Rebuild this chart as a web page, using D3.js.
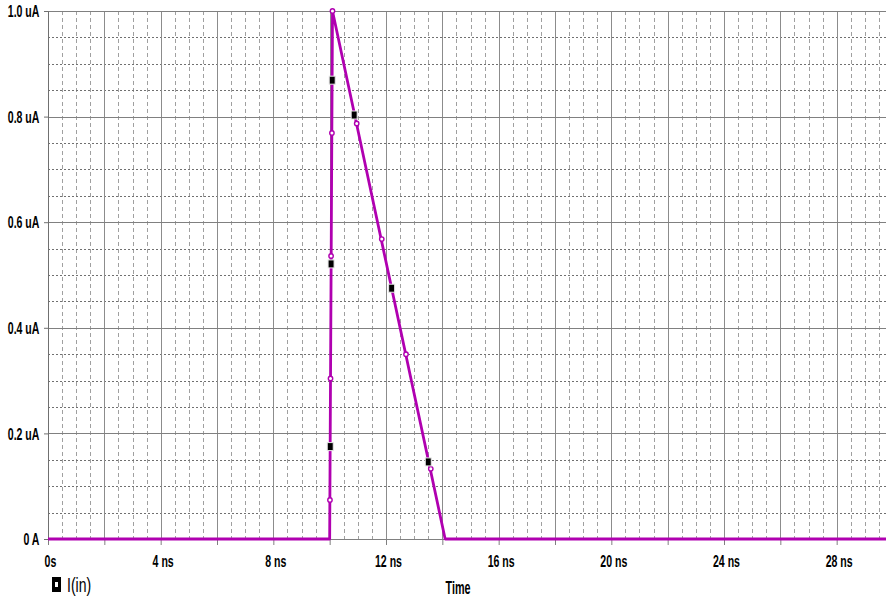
<!DOCTYPE html>
<html>
<head>
<meta charset="utf-8">
<script src="https://cdn.jsdelivr.net/npm/d3@7"></script>
<style>
  body { margin: 0; background: #fff; }
  .tick text { font-family: "Liberation Sans", Arial, sans-serif; font-weight: bold; font-size: 16px; fill: #000; }
</style>
</head>
<body>
<script>
// trace I(in), time in ns, current in uA
var traceTimes = [0, 10, 10.1, 14.1, 30];
var traceValues = [0, 0, 1.0, 0, 0];

// simulation points drawn as little hollow markers
var pointTimes = [10.01, 10.03, 10.05, 10.08, 10.1, 10.96, 11.85, 12.71, 13.59];
var pointValues = [0.074, 0.304, 0.536, 0.769, 1.0, 0.787, 0.568, 0.350, 0.133];

// black legend squares along the trace
var squareTimes = [10.02, 10.05, 10.09, 10.87, 12.2, 13.5];
var squareValues = [0.175, 0.521, 0.869, 0.803, 0.475, 0.146];

// axis ticks
var xTicks = [0, 2, 4, 6, 8, 10, 12, 14, 16, 18, 20, 22, 24, 26, 28, 30];
var xLabelTicks = [0, 4, 8, 12, 16, 20, 24, 28];
var yTicks = [0, 0.2, 0.4, 0.6, 0.8, 1.0];

var w = 886, h = 600;
var traceColor = "#b000b0";
var font = '"Liberation Sans", Arial, sans-serif';

var svg = d3.select("body")
    .append("svg")
    .attr("width", w)
    .attr("height", h);

var x = d3.scaleLinear()
    .domain([0, 30])
    .range([48, 893]);

var y = d3.scaleLinear()
    .domain([0, 1])
    .range([539, 11]);

var grid = svg.append("g").attr("class", "grid");

// minor vertical dashed lines, every 0.5 ns
grid.selectAll(".vminor")
    .data(d3.range(1, 60).map(function(i){ return i * 0.5; }).filter(function(t){ return t % 2 !== 0; }))
    .enter()
    .append("line")
    .attr("x1", function(d){ return Math.round(x(d)) + 0.5; })
    .attr("x2", function(d){ return Math.round(x(d)) + 0.5; })
    .attr("y1", y(1))
    .attr("y2", y(0))
    .attr("stroke", "#a0a0a0")
    .attr("stroke-dasharray", "4,3");

// minor horizontal dashed lines, every 0.05 uA
grid.selectAll(".hminor")
    .data(d3.range(1, 20).map(function(i){ return i * 0.05; }).filter(function(v, i){ return (i + 1) % 4 !== 0; }))
    .enter()
    .append("line")
    .attr("x1", x(0))
    .attr("x2", w)
    .attr("y1", function(d){ return Math.round(y(d)) + 0.5; })
    .attr("y2", function(d){ return Math.round(y(d)) + 0.5; })
    .attr("stroke", "#707070")
    .attr("stroke-dasharray", "2,2");

// major vertical lines
grid.selectAll(".vmajor")
    .data(xTicks)
    .enter()
    .append("line")
    .attr("x1", function(d){ return Math.round(x(d)) + 0.5; })
    .attr("x2", function(d){ return Math.round(x(d)) + 0.5; })
    .attr("y1", y(1))
    .attr("y2", y(0))
    .attr("stroke", "#8c8c8c");

// major horizontal lines
grid.selectAll(".hmajor")
    .data(yTicks)
    .enter()
    .append("line")
    .attr("x1", x(0))
    .attr("x2", w)
    .attr("y1", function(d){ return Math.round(y(d)) + 0.5; })
    .attr("y2", function(d){ return Math.round(y(d)) + 0.5; })
    .attr("stroke", "#808080");

// axes
var xAxis = d3.axisBottom(x)
    .tickValues(xTicks)
    .tickSize(6)
    .tickFormat(function(d){
        if (xLabelTicks.indexOf(d) < 0) return "";
        return d === 0 ? "0s" : d + " ns";
    });

var gx = svg.append("g")
    .attr("transform", "translate(0," + y(0) + ")")
    .call(xAxis);
gx.select(".domain").remove();
gx.selectAll(".tick line").attr("stroke", "#808080");
gx.selectAll(".tick text")
    .attr("x", 3)
    .attr("y", 28)
    .attr("dy", 0)
    .attr("transform", "scale(0.66,1)");

var yAxis = d3.axisLeft(y)
    .tickValues(yTicks)
    .tickSize(4)
    .tickFormat(function(d){
        return d === 0 ? "0 A" : d3.format(".1f")(d) + " uA";
    });

var gy = svg.append("g")
    .attr("transform", "translate(" + x(0) + ",0)")
    .call(yAxis);
gy.select(".domain").attr("stroke", "#707070");
gy.selectAll(".tick line").attr("stroke", "#707070");
gy.selectAll(".tick text")
    .attr("x", -13)
    .attr("dy", "0.36em")
    .attr("transform", "scale(0.66,1)");

// the trace
var line = d3.line()
    .x(function(d){ return x(d.t); })
    .y(function(d){ return y(d.v); });

var trace = traceTimes.map(function(t, i){ return { t: t, v: traceValues[i] }; });

svg.append("path")
    .datum(trace)
    .attr("d", line)
    .attr("fill", "none")
    .attr("stroke", traceColor)
    .attr("stroke-width", 2.8)
    .attr("stroke-linejoin", "round");

// simulation points
svg.selectAll(".pt")
    .data(pointTimes.map(function(t, i){ return { t: t, v: pointValues[i] }; }))
    .enter()
    .append("circle")
    .attr("class", "pt")
    .attr("cx", function(d){ return x(d.t); })
    .attr("cy", function(d){ return y(d.v); })
    .attr("r", 2.2)
    .attr("fill", "#fff")
    .attr("stroke", traceColor)
    .attr("stroke-width", 1.4);

// black marker squares
svg.selectAll(".sq")
    .data(squareTimes.map(function(t, i){ return { t: t, v: squareValues[i] }; }))
    .enter()
    .append("rect")
    .attr("class", "sq")
    .attr("x", function(d){ return x(d.t) - 3; })
    .attr("y", function(d){ return y(d.v) - 4; })
    .attr("width", 6)
    .attr("height", 8)
    .attr("fill", "#000")
    .attr("stroke", "#e8e8e8")
    .attr("stroke-width", 1);

// legend
svg.append("rect")
    .attr("x", 52)
    .attr("y", 577)
    .attr("width", 9)
    .attr("height", 15)
    .attr("fill", "#000");
svg.append("rect")
    .attr("x", 55)
    .attr("y", 582)
    .attr("width", 3)
    .attr("height", 5)
    .attr("fill", "#fff");
svg.append("text")
    .attr("transform", "translate(67,592) scale(0.7,1)")
    .style("font-family", font)
    .style("font-size", "20px")
    .text("I(in)");

// x axis title
svg.append("text")
    .attr("transform", "translate(458,594) scale(0.6,1)")
    .attr("text-anchor", "middle")
    .style("font-family", font)
    .style("font-weight", "bold")
    .style("font-size", "18px")
    .text("Time");
</script>
</body>
</html>
